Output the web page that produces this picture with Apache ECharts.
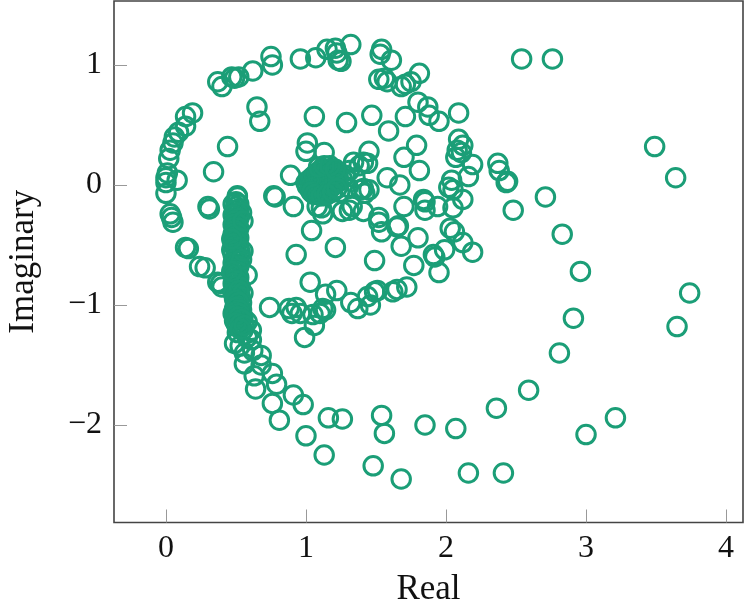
<!DOCTYPE html>
<html><head><meta charset="utf-8">
<script src="https://cdn.jsdelivr.net/npm/echarts@6/dist/echarts.min.js"></script>
<style>html,body{margin:0;padding:0;background:#fff}#c{width:747px;height:611px}</style></head>
<body><div id="c"></div>
<script>
const xTicks=[0,1,2,3,4];
const yTicks=[-2,-1,0,1];
const outerPoints=[[2.54,1.05],[2.76,1.05],[3.49,0.32],[3.64,0.06],[3.74,-0.90],[3.65,-1.18],[2.71,-0.10],[2.83,-0.41],[2.96,-0.72],[2.91,-1.11],[2.81,-1.40],[2.59,-1.71],[2.36,-1.86],[3.21,-1.94],[3.0,-2.08],[2.07,-2.03],[1.85,-2.0],[1.54,-1.92],[1.56,-2.07],[1.16,-1.94],[1.26,-1.95],[1.0,-2.09],[1.13,-2.25],[1.48,-2.34],[1.68,-2.45],[2.16,-2.40],[2.41,-2.40]];
const tailPoints=[[0.81,-1.96],[0.76,-1.82],[0.98,-1.83],[0.91,-1.75],[0.64,-1.70],[0.79,-1.66],[0.76,-1.57],[0.63,-1.59],[0.68,-1.42],[0.56,-1.49],[0.61,-1.29],[0.49,-1.32],[0.56,-1.40],[0.62,-1.38],[0.51,-1.23],[0.58,-1.27],[0.61,-1.21],[0.51,-1.18],[0.55,-1.21],[0.49,-1.13],[0.58,-1.14],[0.48,-1.07],[0.55,-1.10],[0.68,-1.50],[0.53,-1.34]];
const lowerRing=[[0.99,-1.27],[0.74,-1.02],[0.88,-1.03],[0.93,-1.02],[0.90,-1.07],[0.96,-1.07],[1.06,-1.17],[1.05,-1.08],[1.10,-1.07],[1.14,-1.04],[1.12,-1.03],[1.14,-0.91],[1.22,-0.88],[1.32,-0.98],[1.37,-1.03],[1.46,-1.0],[1.44,-0.93],[1.51,-0.88],[1.49,-0.89],[1.62,-0.89],[1.65,-0.87],[1.72,-0.85]];
const midPoints=[[1.06,0.57],[1.29,0.52],[1.47,0.58],[1.59,0.45],[1.71,0.57],[1.88,0.58],[1.80,0.69],[1.87,0.65],[1.95,0.53],[2.09,0.6],[1.01,0.35],[1.0,0.28],[1.13,0.27],[1.45,0.28],[1.79,0.33],[1.70,0.23],[1.81,0.12],[2.09,0.38],[2.12,0.33],[2.08,0.29],[2.07,0.23],[2.11,0.27],[2.19,0.17],[2.16,0.07],[2.04,0.04],[2.02,-0.02],[2.12,-0.12],[2.05,-0.04],[2.05,-0.19],[1.94,-0.18],[1.84,-0.12],[1.85,-0.14],[1.85,-0.21],[0.89,0.08],[1.58,0.06],[1.67,0],[1.70,-0.18],[0.91,-0.18],[1.52,-0.27],[1.52,-0.31],[1.54,-0.39],[1.65,-0.35],[1.66,-0.34],[1.80,-0.44],[1.68,-0.51],[1.04,-0.38],[1.21,-0.52],[0.93,-0.58],[1.49,-0.63],[1.77,-0.67],[1.95,-0.73],[1.91,-0.58],[1.92,-0.60],[1.99,-0.54],[2.12,-0.48],[2.19,-0.56],[2.03,-0.36],[2.06,-0.39],[2.44,0.03],[2.43,0.02],[2.37,0.18],[2.38,0.12],[2.48,-0.21]];
const nearCore=[[1.34,0.19],[1.41,0.19],[1.44,0.18],[1.38,0.16],[1.31,0.12],[1.28,0.08],[1.35,0.06],[1.41,-0.03],[1.45,-0.04],[1.39,-0.04],[1.42,-0.07],[1.31,-0.21],[1.26,-0.22],[1.33,-0.18],[1.41,-0.22],[1.11,-0.19],[1.08,-0.18],[1.12,-0.24],[1.24,-0.06],[1.30,-0.02],[1.22,0.10]];
const upperArc=[[0.37,0.86],[0.40,0.82],[0.47,0.90],[0.49,0.89],[0.52,0.90],[0.62,0.95],[0.75,1.07],[0.76,1.0],[0.96,1.05],[1.07,1.06],[1.15,1.13],[1.21,1.14],[1.22,1.10],[1.23,1.04],[1.32,1.17],[1.25,1.03],[1.54,1.13],[1.53,1.09],[1.61,1.04],[1.52,0.88],[1.56,0.89],[1.58,0.86],[1.68,0.82],[1.71,0.84],[1.75,0.86],[1.81,0.93],[0.65,0.65],[0.67,0.53]];
const leftArc=[[0.44,0.32],[0.34,0.11],[0.19,0.60],[0.14,0.57],[0.14,0.49],[0.09,0.44],[0.06,0.40],[0.05,0.35],[0.03,0.29],[0.02,0.22],[0.01,0.10],[0.0,0.06],[0.0,0.02],[0.0,-0.07],[0.08,0.04],[0.03,-0.24],[0.04,-0.27],[0.05,-0.31],[0.30,-0.18],[0.31,-0.20],[0.78,-0.10],[0.77,-0.09],[0.14,-0.52],[0.16,-0.53],[0.24,-0.68],[0.28,-0.69],[0.37,-0.81],[0.39,-0.82],[0.40,-0.85],[1.03,-0.81],[0.58,-0.75]];
const corePoints=[[1.0,0.02],[1.01,-0.01],[1.02,0.04],[1.03,0.0],[1.03,-0.04],[1.04,0.06],[1.05,0.02],[1.05,-0.03],[1.06,0.08],[1.07,0.04],[1.07,0.0],[1.07,-0.05],[1.08,0.1],[1.09,0.06],[1.09,0.02],[1.09,-0.02],[1.09,-0.07],[1.1,0.12],[1.11,0.08],[1.11,0.04],[1.11,-0.01],[1.11,-0.05],[1.12,0.13],[1.13,0.09],[1.13,0.05],[1.13,0.01],[1.13,-0.03],[1.13,-0.07],[1.15,0.12],[1.15,0.08],[1.15,0.04],[1.15,0.0],[1.15,-0.04],[1.17,0.13],[1.17,0.09],[1.17,0.05],[1.17,0.01],[1.17,-0.03],[1.19,0.11],[1.19,0.07],[1.19,0.03],[1.19,-0.01],[1.21,0.09],[1.21,0.05],[1.21,0.01],[1.23,0.07],[1.23,0.03],[1.26,0.05],[1.04,-0.06],[1.06,-0.08],[1.09,0.15],[1.13,0.16],[1.17,0.16],[1.21,0.13],[1.11,-0.09],[1.15,-0.08],[1.19,-0.06],[1.22,-0.03]];
const columnPoints=[[0.51,-0.09],[0.51,-0.1],[0.5,-0.14],[0.52,-0.16],[0.48,-0.16],[0.5,-0.18],[0.52,-0.2],[0.49,-0.21],[0.51,-0.23],[0.54,-0.23],[0.48,-0.25],[0.5,-0.27],[0.52,-0.28],[0.49,-0.3],[0.51,-0.32],[0.48,-0.33],[0.5,-0.35],[0.52,-0.36],[0.49,-0.38],[0.51,-0.4],[0.48,-0.41],[0.5,-0.43],[0.52,-0.44],[0.49,-0.46],[0.51,-0.48],[0.48,-0.49],[0.5,-0.51],[0.52,-0.52],[0.47,-0.54],[0.5,-0.55],[0.53,-0.56],[0.48,-0.58],[0.51,-0.6],[0.49,-0.62],[0.52,-0.63],[0.48,-0.65],[0.5,-0.67],[0.52,-0.68],[0.49,-0.7],[0.51,-0.72],[0.48,-0.74],[0.5,-0.75],[0.52,-0.77],[0.49,-0.79],[0.51,-0.8],[0.48,-0.82],[0.5,-0.84],[0.53,-0.85],[0.49,-0.87],[0.51,-0.89],[0.48,-0.9],[0.5,-0.92],[0.53,-0.93],[0.49,-0.95],[0.51,-0.97],[0.54,-0.98],[0.5,-1.0],[0.52,-1.01],[0.49,-1.03],[0.54,-1.04],[0.51,-1.06],[0.53,-1.08],[0.55,-0.3],[0.55,-0.55],[0.54,-0.62],[0.47,-0.45],[0.47,-0.72],[0.55,-0.9],[0.52,-0.88],[0.5,-0.96],[0.52,-0.98],[0.5,-1.02],[0.52,-1.04],[0.5,-1.06],[0.52,-1.07],[0.49,-1.09],[0.52,-1.1],[0.54,-1.12],[0.5,-1.15],[0.53,-1.16],[0.53,-1.2],[0.56,-1.17]];
const allPoints=[].concat(outerPoints,tailPoints,lowerRing,midPoints,nearCore,upperArc,leftArc,corePoints,columnPoints);
const minus=v=>String(v).replace('-','\u2212');
const font='"Liberation Serif"';
const chart=echarts.init(document.getElementById('c'),null,{renderer:'canvas'});
chart.setOption({
  animation:false,backgroundColor:'#fff',
  grid:{left:114,top:1,width:629,height:521.5,outerBoundsMode:'none',containLabel:false,show:true,backgroundColor:'transparent',borderColor:'#444',borderWidth:1.6},
  xAxis:{type:'value',min:-0.371,max:4.121,name:'Real',nameLocation:'middle',nameGap:50,
    nameTextStyle:{fontFamily:font,fontSize:35,color:'#111'},
    axisLine:{show:false,onZero:false},splitLine:{show:false},
    axisTick:{show:true,inside:true,length:13,lineStyle:{color:'#999',width:1},customValues:xTicks},
    axisLabel:{fontFamily:font,fontSize:32,color:'#111',margin:10,customValues:xTicks,formatter:minus}},
  yAxis:{type:'value',min:-2.8125,max:1.533,name:'Imaginary',nameLocation:'middle',nameGap:73,
    nameTextStyle:{fontFamily:font,fontSize:35,color:'#111'},
    axisLine:{show:false,onZero:false},splitLine:{show:false},
    axisTick:{show:true,inside:true,length:13,lineStyle:{color:'#999',width:1},customValues:yTicks},
    axisLabel:{fontFamily:font,fontSize:32,color:'#111',margin:12,customValues:yTicks,formatter:minus}},
  series:[{type:'scatter',data:allPoints,symbol:'circle',symbolSize:18.5,silent:true,
    itemStyle:{color:'transparent',borderColor:'#1b9e77',borderWidth:3,opacity:1}}]
});
</script></body></html>
